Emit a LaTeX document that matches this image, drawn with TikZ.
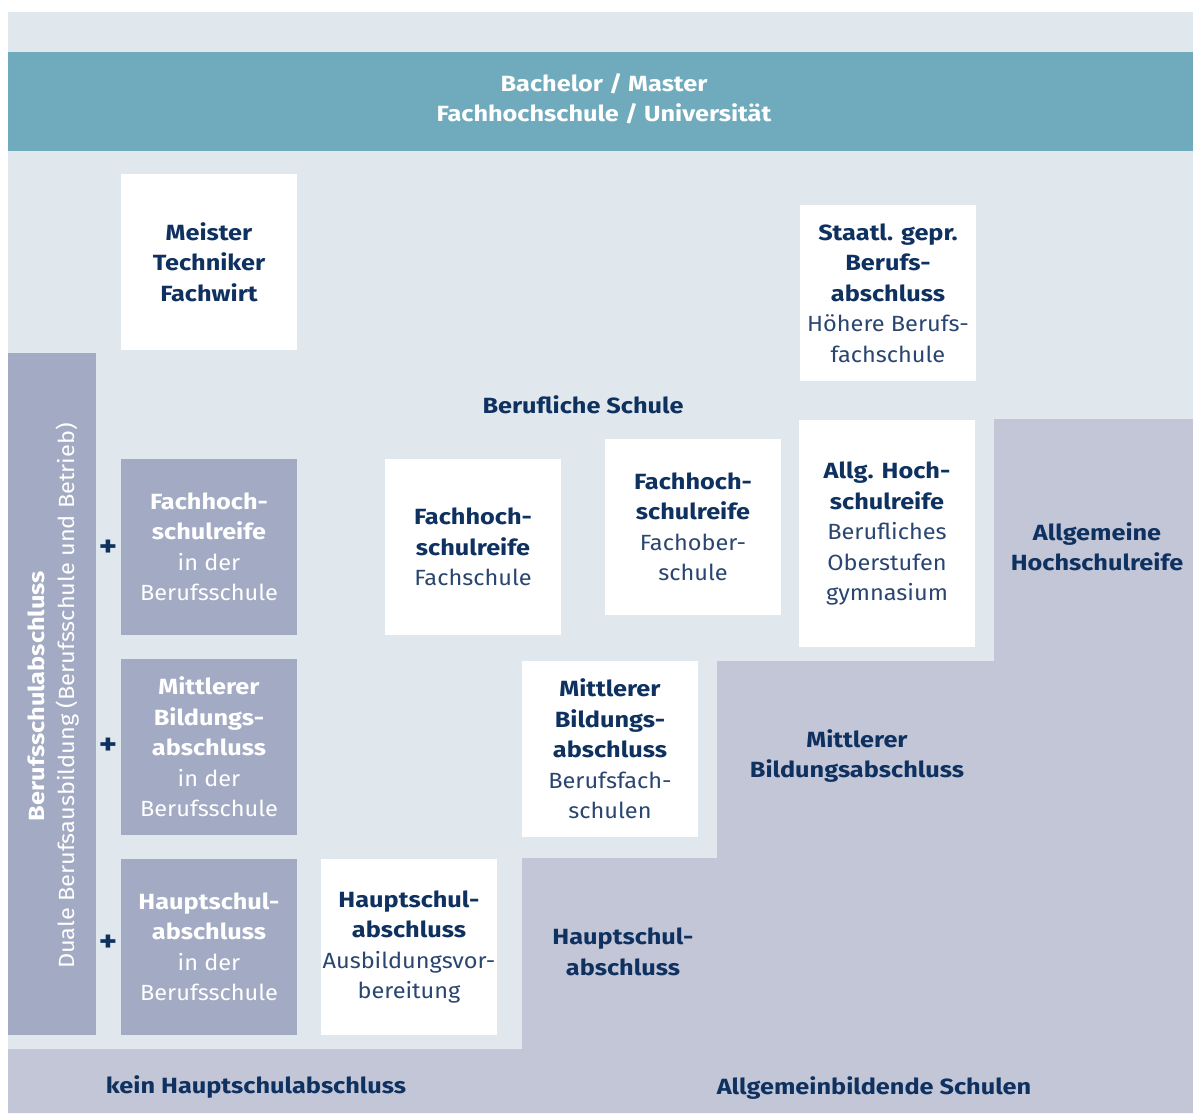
\documentclass[tikz,border=0pt]{standalone}
\usepackage{fontspec}
\setmainfont{Fira Sans}[UprightFeatures={FakeStretch=1.07}, BoldFeatures={FakeStretch=1.15}]
\definecolor{bgl}{HTML}{E0E8EE}
\definecolor{teal}{HTML}{6FAABD}
\definecolor{barc}{HTML}{A3AAC3}
\definecolor{lav}{HTML}{C3C6D7}
\definecolor{navy}{HTML}{0E3160}
\definecolor{navyl}{HTML}{2A4670}
\newcommand{\hd}[1]{\textbf{#1}}
\begin{document}
\begin{tikzpicture}[x=1pt,y=-1pt,
  every node/.style={font=\fontsize{22}{30.5}\selectfont, align=center, inner sep=0pt},
  wbox/.style={rectangle, fill=white, minimum width=176pt, minimum height=176pt, text=navyl},
  gbox/.style={rectangle, fill=barc, minimum width=176pt, minimum height=176pt, text=white},
  lbl/.style={text=navy, font=\fontsize{22}{30.5}\selectfont\bfseries},
  plus/.style={text=navy, font=\fontsize{30}{30}\selectfont\bfseries}]
\useasboundingbox (0,0) rectangle (1193,1113);
\fill[white] (0,0) rectangle (1193,1113);
\fill[bgl] (8,12) rectangle (1193,1113);
\fill[teal] (8,52) rectangle (1193,151);
\fill[lav] (8,1113) -- (8,1049) -- (522,1049) -- (522,858) -- (717,858) -- (717,661) -- (994,661) -- (994,419) -- (1193,419) -- (1193,1113) -- cycle;
\fill[barc] (8,353) rectangle (96,1035);

\node[text=white, font=\fontsize{22}{29.5}\selectfont\bfseries] (bm) at (604,99) {Bachelor / Master\\Fachhochschule / Universität};

\node[wbox] (meister) at (209,262) {\hd{\color{navy}Meister}\\\hd{\color{navy}Techniker}\\\hd{\color{navy}Fachwirt}};
\node[wbox] (staatl) at (888,293) {\hd{\color{navy}Staatl. gepr.}\\\hd{\color{navy}Berufs-}\\\hd{\color{navy}abschluss}\\Höhere Berufs-\\fachschule};
\node[lbl] (bs) at (583,405) {Berufliche Schule};

\node[gbox] (fhrbs) at (209,547) {\hd{Fachhoch-}\\\hd{schulreife}\\in der\\Berufsschule};
\node[gbox] (mbabs) at (209,747) {\hd{Mittlerer}\\\hd{Bildungs-}\\\hd{abschluss}\\in der\\Berufsschule};
\node[gbox] (hsabs) at (209,947) {\hd{Hauptschul-}\\\hd{abschluss}\\in der\\Berufsschule};

\node[plus] (p1) at (108,548) {+};
\node[plus] (p2) at (108,746) {+};
\node[plus] (p3) at (108,943) {+};

\node[wbox] (fhrfs) at (473,547) {\hd{\color{navy}Fachhoch-}\\\hd{\color{navy}schulreife}\\Fachschule};
\node[wbox] (fhrfos) at (693,527) {\hd{\color{navy}Fachhoch-}\\\hd{\color{navy}schulreife}\\Fachober-\\schule};
\node[wbox, minimum height=227pt] (ahr) at (887,533.5) {\hd{\color{navy}Allg. Hoch-}\\\hd{\color{navy}schulreife}\\Berufliches\\Oberstufen\\gymnasium};
\node[wbox] (mba) at (610,749) {\hd{\color{navy}Mittlerer}\\\hd{\color{navy}Bildungs-}\\\hd{\color{navy}abschluss}\\Berufsfach-\\schulen};
\node[wbox] (hsa) at (409,947) {\hd{\color{navy}Hauptschul-}\\\hd{\color{navy}abschluss}\\Ausbildungsvor-\\bereitung};

\node[lbl] (ahrl) at (1097,547) {Allgemeine\\Hochschulreife};
\node[lbl] (mbal) at (857,756) {Mittlerer\\Bildungsabschluss};
\node[lbl] (hsal) at (623,952) {Hauptschul-\\abschluss};
\node[lbl] (kein) at (256,1087) {kein Hauptschulabschluss};
\node[lbl] (abs) at (874,1088) {Allgemeinbildende Schulen};

\node[text=white, rotate=90, font=\fontsize{22}{30}\selectfont] (bar) at (53,696) {\hd{Berufsschulabschluss}\\Duale Berufsausbildung (Berufsschule und Betrieb)};
\end{tikzpicture}
\end{document}
